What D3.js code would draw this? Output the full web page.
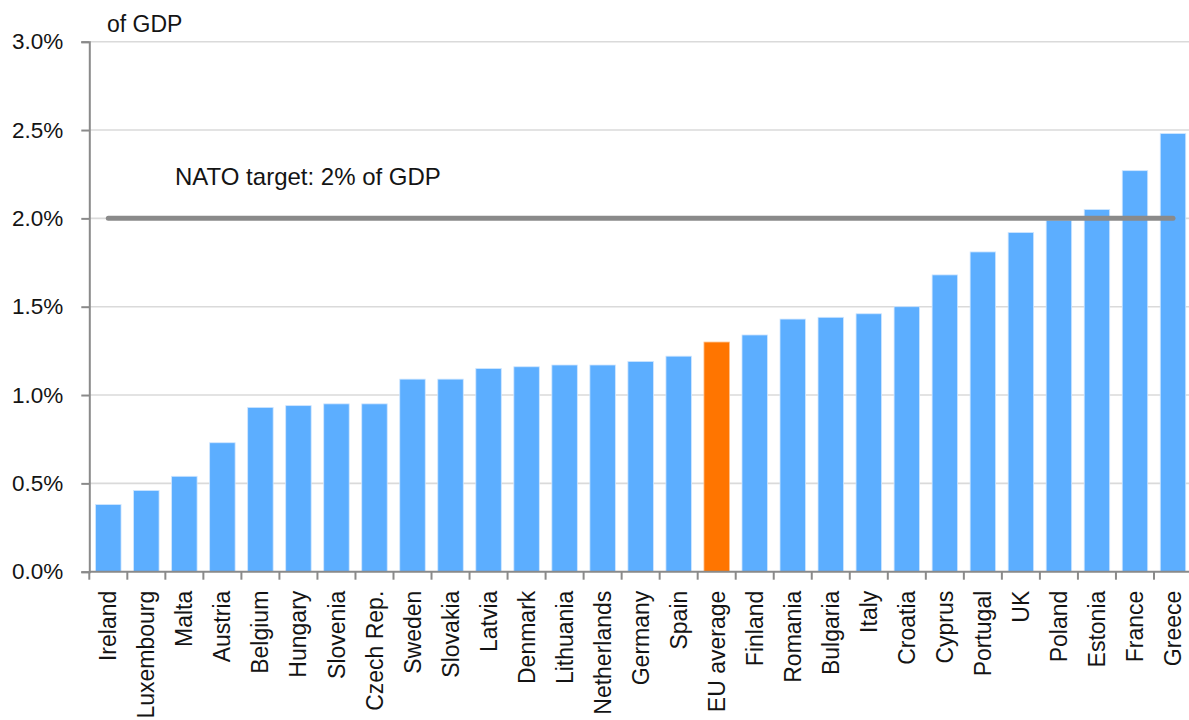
<!DOCTYPE html>
<html>
<head>
<meta charset="utf-8">
<script src="https://cdn.jsdelivr.net/npm/d3@7/dist/d3.min.js"></script>
<style>
  html, body { margin: 0; padding: 0; background: #fff; }
  svg { display: block; }
  text { font-family: "Liberation Sans", Arial, sans-serif; fill: #141414; }
</style>
</head>
<body>
<svg id="chart" width="1189" height="720"></svg>
<script>
// Defence spending, % of GDP
const countries = ["Ireland", "Luxembourg", "Malta", "Austria", "Belgium", "Hungary", "Slovenia",
  "Czech Rep.", "Sweden", "Slovakia", "Latvia", "Denmark", "Lithuania", "Netherlands", "Germany",
  "Spain", "EU average", "Finland", "Romania", "Bulgaria", "Italy", "Croatia", "Cyprus", "Portugal",
  "UK", "Poland", "Estonia", "France", "Greece"];
const spending = [0.38, 0.46, 0.54, 0.73, 0.93, 0.94, 0.95, 0.95, 1.09, 1.09, 1.15, 1.16, 1.17,
  1.17, 1.19, 1.22, 1.30, 1.34, 1.43, 1.44, 1.46, 1.50, 1.68, 1.81, 1.92, 1.99, 2.05, 2.27, 2.48];
const highlight = "EU average";
const natoTarget = 2.0;
const natoLabel = "NATO target: 2% of GDP";
const yTicks = [0, 0.5, 1.0, 1.5, 2.0, 2.5, 3.0];
const unitLabel = "of GDP";

const svg = d3.select("#chart");
const W = 1189;
const plotLeft = 89.3, plotRight = 1192, plotTop = 41.7, plotBottom = 571.7;

const x = d3.scaleBand().domain(countries).range([plotLeft, plotRight]).paddingInner(0.33).paddingOuter(0.165);
const y = d3.scaleLinear().domain([0, 3]).range([plotBottom, plotTop]);

// gridlines
svg.append("g").selectAll("line").data(yTicks.filter(d => d > 0)).join("line")
  .attr("x1", plotLeft).attr("x2", W)
  .attr("y1", d => y(d)).attr("y2", d => y(d))
  .attr("stroke", "#dadada").attr("stroke-width", 1.6);

// bars
const data = countries.map((c, i) => ({ c, v: spending[i] }));
svg.append("g").selectAll("rect").data(data).join("rect")
  .attr("x", d => x(d.c))
  .attr("width", x.bandwidth())
  .attr("y", d => y(d.v))
  .attr("height", d => y(0) - y(d.v))
  .attr("fill", d => d.c === highlight ? "#ff7500" : "#5caeff")
  .attr("stroke", d => d.c === highlight ? "#ffc08a" : "#cfe6ff")
  .attr("stroke-width", 0.8);

// NATO target line
svg.append("line")
  .attr("x1", x(countries[0]) + x.bandwidth() / 2)
  .attr("x2", x(countries[countries.length - 1]) + x.bandwidth() / 2)
  .attr("y1", y(natoTarget)).attr("y2", y(natoTarget))
  .attr("stroke", "#8a8a8a").attr("stroke-width", 5).attr("stroke-linecap", "round");

svg.append("text")
  .attr("x", 175).attr("y", 185)
  .attr("font-size", 24)
  .text(natoLabel);

// y axis
const yAxis = d3.axisLeft(y).tickValues(yTicks).tickFormat(d => d.toFixed(1) + "%").tickSize(8).tickPadding(18);
const gy = svg.append("g").attr("transform", `translate(${plotLeft},0)`).call(yAxis);
gy.select(".domain").attr("stroke", "#8a8a8a").attr("stroke-width", 2);
gy.selectAll(".tick line").attr("stroke", "#8a8a8a").attr("stroke-width", 2);
gy.selectAll(".tick text").attr("font-size", 22.5).attr("font-family", "Liberation Sans, Arial, sans-serif").attr("fill", "#141414");

// x axis with ticks on band boundaries
const gx = svg.append("g").attr("transform", `translate(0,${plotBottom})`);
gx.append("line").attr("x1", plotLeft).attr("x2", W).attr("y1", 0).attr("y2", 0)
  .attr("stroke", "#8a8a8a").attr("stroke-width", 2);
const step = x.step();
const boundaries = countries.map(c => x(c) - x.paddingInner() * step / 2)
  .concat([x(countries[countries.length - 1]) + x.bandwidth() + x.paddingInner() * step / 2]);
gx.selectAll("line.tk").data(boundaries.filter(b => b <= W)).join("line")
  .attr("class", "tk")
  .attr("x1", d => d).attr("x2", d => d).attr("y1", 0).attr("y2", 8)
  .attr("stroke", "#8a8a8a").attr("stroke-width", 2);
gx.selectAll("text").data(countries).join("text")
  .attr("transform", d => `translate(${x(d) + x.bandwidth() / 2},19) rotate(-90)`)
  .attr("text-anchor", "end")
  .attr("dy", "0.35em")
  .attr("font-size", 23)
  .text(d => d);

svg.append("text").attr("x", 107).attr("y", 31.5).attr("font-size", 23).text(unitLabel);
</script>
</body>
</html>
